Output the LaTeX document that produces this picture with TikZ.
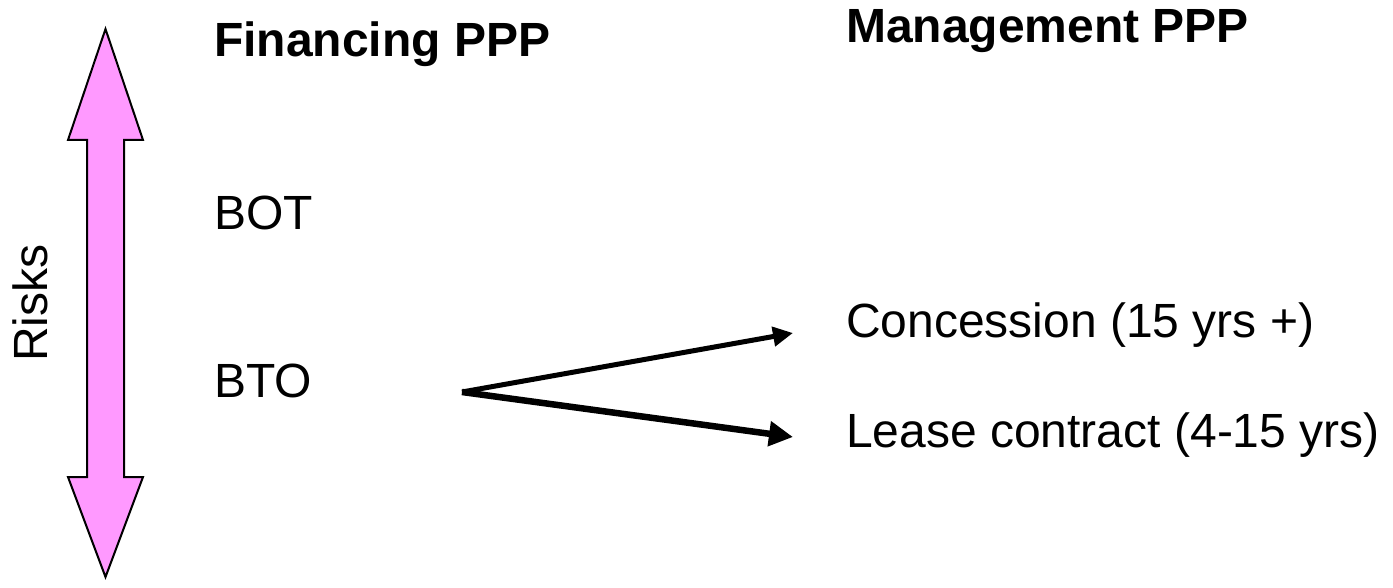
\documentclass[tikz,border=0pt]{standalone}
\usepackage{fontspec}
\setmainfont{Liberation Sans}
\usetikzlibrary{arrows.meta}
\definecolor{riskpink}{RGB}{255,153,255}
\begin{document}
\begin{tikzpicture}[x=1pt,y=-1pt,
  lbl/.style={anchor=base west, inner sep=0pt, font=\fontsize{48}{58}\selectfont},
  hdr/.style={anchor=base west, inner sep=0pt, font=\fontsize{48}{58}\selectfont\bfseries},
  thinconn/.style={-{Triangle[length=20pt,width=19pt]}, line width=5pt},
  thickconn/.style={-{Triangle[length=24pt,width=24pt]}, line width=6.5pt},
  riskarrow/.style={draw=black, line width=2pt, fill=riskpink, line join=miter}]
\useasboundingbox (0,0) rectangle (1393,588);
\fill[white] (0,0) rectangle (1393,588);
% double arrow (risks)
\path[riskarrow] (105.5,29) -- (143,140) -- (124,140) -- (124,477) -- (143,477)
  -- (105.5,577) -- (68,477) -- (87,477) -- (87,140) -- (68,140) -- cycle;
\node[lbl, anchor=base, rotate=90] (risks) at (47,303) {Risks};
% headers
\node[hdr] (fin) at (214,57) {Financing PPP};
\node[hdr] (mgmt) at (846,43) {Management PPP};
% items
\node[lbl] (bot) at (214,230) {BOT};
\node[lbl] (bto) at (214,397) {BTO};
\node[lbl] (conc) at (846,337) {Concession (15 yrs +)};
\node[lbl] (lease) at (846,447) {Lease contract (4-15 yrs)};
% connectors
\coordinate (fork) at (462,392);
\coordinate (concend) at (793,333);
\coordinate (leaseend) at (793,437);
\draw[thinconn] (fork) -- (concend);
\draw[thickconn] (fork) -- (leaseend);
\end{tikzpicture}
\end{document}
